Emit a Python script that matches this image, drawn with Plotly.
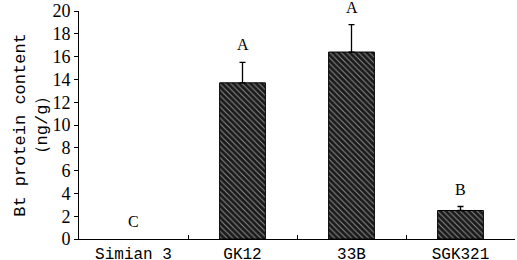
import plotly.graph_objects as go

categories = ["Simian 3", "GK12", "33B", "SGK321"]
values = [0, 13.7, 16.4, 2.5]
errors = [None, 1.8, 2.4, 0.35]
letters = ["C", "A", "A", "B"]
y_ticks = [0, 2, 4, 6, 8, 10, 12, 14, 16, 18, 20]

serif = "Liberation Serif"
mono = "Liberation Mono"

bar_y = [v if v else None for v in values]
err_plus = [0 if e is None else e for e in errors]
bar_tops = [v + (e or 0) for v, e in zip(values, errors)]

fig = go.Figure()
fig.add_trace(go.Bar(
    x=categories, y=bar_y, width=0.42,
    marker=dict(color="#1a1a1a",
                line=dict(color="#000000", width=1),
                pattern=dict(shape="\\", fgcolor="#ffffff", size=4, solidity=0.25, fillmode="overlay")),
    error_y=dict(type="data", symmetric=False, array=err_plus, arrayminus=[0] * len(values),
                 color="#000000", thickness=1.3, width=3),
    showlegend=False, hoverinfo="skip",
))
for cat, txt, top in zip(categories, letters, bar_tops):
    fig.add_annotation(x=cat, y=top, text=txt, showarrow=False, yanchor="bottom", yshift=7,
                       font=dict(family=serif, size=16, color="#000000"),
                       xref="x", yref="y")
fig.update_layout(
    width=517, height=260,
    margin=dict(l=79, r=2, t=11, b=21),
    plot_bgcolor="white", paper_bgcolor="white",
    font=dict(family=serif, size=16, color="#000000"),
)
fig.update_xaxes(
    showline=True, linecolor="#000000", linewidth=1,
    ticks="inside", tickson="boundaries", ticklen=4, tickcolor="#000000",
    tickfont=dict(family=mono, size=16), showgrid=False, automargin=False,
)
fig.update_yaxes(
    range=[0, 20], tickvals=y_ticks, showline=True, linecolor="#000000", linewidth=1,
    ticks="outside", ticklen=4, tickcolor="#000000", showgrid=False, zeroline=False,
    tickfont=dict(family=serif, size=18), automargin=False,
    title=dict(text="Bt protein content<br>（ng/g）", font=dict(family=mono, size=17), standoff=0),
)
fig.write_html("out.html", config={"displayModeBar": False},
               post_script="document.body.style.margin='0';document.body.style.overflow='hidden';")
